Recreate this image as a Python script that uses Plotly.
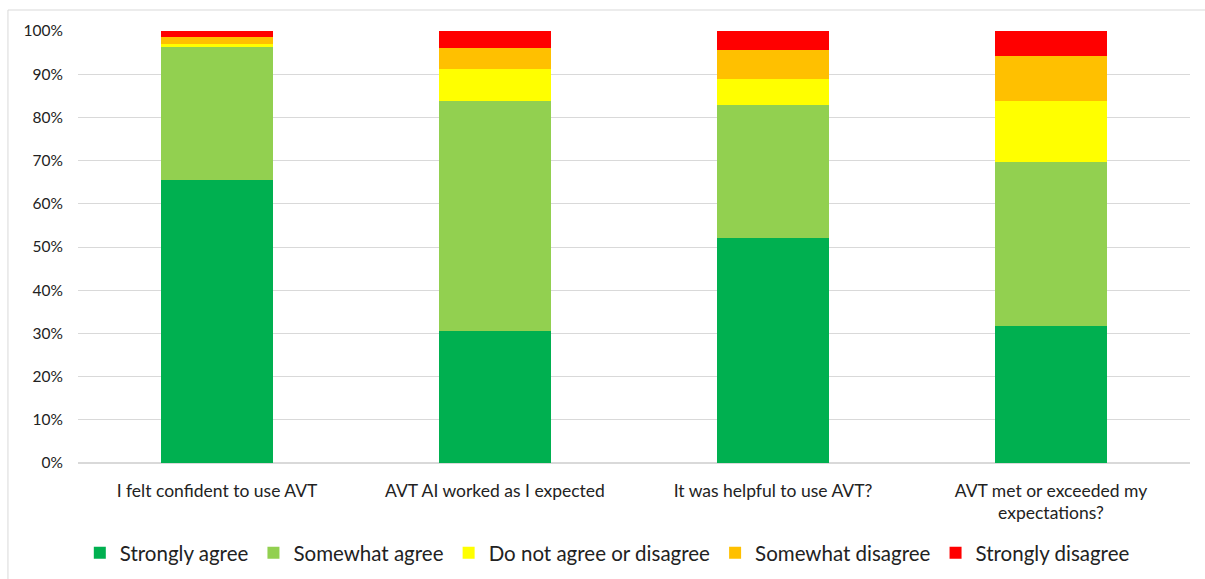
import plotly.graph_objects as go

categories = ["I felt confident to use AVT", "AVT AI worked as I expected",
              "It was helpful to use AVT?", "AVT met or exceeded my<br>expectations?"]
series_names = ["Strongly agree", "Somewhat agree", "Do not agree or disagree",
                "Somewhat disagree", "Strongly disagree"]
strongly_agree = [65.5, 30.6, 52.0, 31.6]
somewhat_agree = [30.7, 53.1, 30.9, 38.1]
neutral = [0.8, 7.4, 5.9, 14.1]
somewhat_disagree = [1.5, 5.0, 6.7, 10.3]
strongly_disagree = [1.5, 3.9, 4.5, 5.9]
colors = ["#00B050", "#92D050", "#FFFF00", "#FFC000", "#FF0000"]
y_ticks = [0, 10, 20, 30, 40, 50, 60, 70, 80, 90, 100]

values = [strongly_agree, somewhat_agree, neutral, somewhat_disagree, strongly_disagree]

fig = go.Figure()
for name, vals, col in zip(series_names, values, colors):
    fig.add_trace(go.Bar(x=categories, y=vals, name=name, marker_color=col,
                         marker_line_width=0))

fig.update_layout(
    barmode="stack",
    bargap=0.6,
    width=1205, height=579,
    margin=dict(l=78, r=15, t=31, b=116, autoexpand=False),
    paper_bgcolor="white", plot_bgcolor="white",
    font=dict(family="Lato, Open Sans, sans-serif", color="#222222", size=15),
    legend=dict(orientation="h", x=0.476, xanchor="center",
                yref="container", y=(579 - 553) / 579, yanchor="middle",
                font=dict(size=20.5, color="#222222"), traceorder="normal",
                itemwidth=30),
    showlegend=True,
    shapes=[dict(type="rect", xref="paper", yref="paper", x0=-0.063, x1=1.02,
                 y0=-0.285, y1=1.0486, line=dict(color="#D9D9D9", width=1),
                 fillcolor="rgba(0,0,0,0)", layer="below")],
)
fig.update_yaxes(range=[0, 100], tickvals=y_ticks,
                 ticktext=[f"{v}%" for v in y_ticks],
                 showgrid=True, gridcolor="#D9D9D9", gridwidth=1,
                 zeroline=True, zerolinecolor="#D9D9D9", showline=False,
                 ticks="", ticklabelstandoff=14, tickfont=dict(size=15.5),
                 automargin=False)
fig.update_xaxes(showgrid=False, showline=False, ticks="", tickfont=dict(size=17.5),
                 ticklabelstandoff=15, automargin=False)

fig.write_html("out.html")
